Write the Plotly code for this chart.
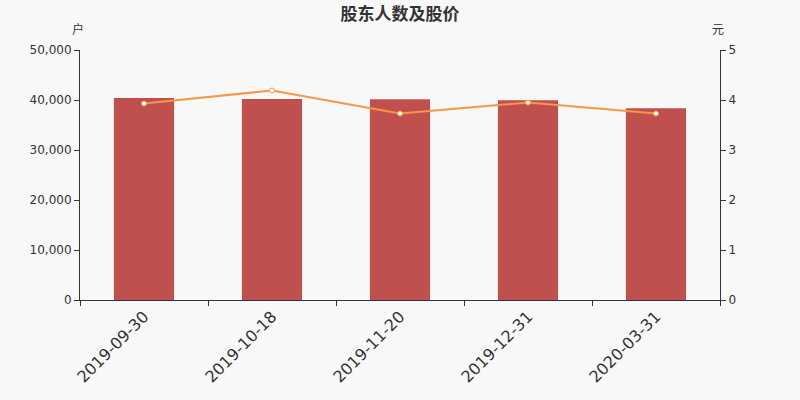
import plotly.graph_objects as go

dates = ["2019-09-30", "2019-10-18", "2019-11-20", "2019-12-31", "2020-03-31"]
holders = [40400, 40200, 40130, 39930, 38330]
price = [3.93, 4.19, 3.73, 3.95, 3.73]

font_family = "DejaVu Sans, Noto Sans CJK SC, sans-serif"
axis_color = "#333333"

fig = go.Figure()

fig.add_bar(
    x=dates, y=holders,
    marker=dict(color="#c0504d", line=dict(width=0)),
    width=0.47,
    name="股东人数",
)

fig.add_scatter(
    x=dates, y=price,
    yaxis="y2",
    mode="lines+markers",
    line=dict(color="#f79646", width=2),
    marker=dict(size=5, color="white", line=dict(color="#f79646", width=1)),
    name="股价",
)

fig.update_layout(
    width=800, height=400,
    margin=dict(l=80, r=80, t=50, b=100),
    paper_bgcolor="#f8f8f8",
    plot_bgcolor="#f8f8f8",
    showlegend=False,
    font=dict(family=font_family, color=axis_color),
    title=dict(text="<b>股东人数及股价</b>", x=0.5, xanchor="center", y=0.965, yanchor="middle",
               font=dict(family="Noto Sans CJK SC, sans-serif", size=17, color=axis_color)),
    xaxis=dict(
        type="category",
        showgrid=False,
        showline=True, linecolor=axis_color, linewidth=1,
        ticks="outside", ticklen=5, tickcolor=axis_color,
        tickson="boundaries",
        tickangle=-45,
        tickfont=dict(size=16, color=axis_color),
    ),
    yaxis=dict(
        range=[0, 50000],
        tickvals=[0, 10000, 20000, 30000, 40000, 50000],
        ticktext=["0", "10,000", "20,000", "30,000", "40,000", "50,000"],
        showgrid=False, zeroline=False,
        showline=True, linecolor=axis_color, linewidth=1,
        ticks="outside", ticklen=5, tickcolor=axis_color,
        tickfont=dict(size=12, color=axis_color),
    ),
    yaxis2=dict(
        range=[0, 5],
        tickvals=[0, 1, 2, 3, 4, 5],
        overlaying="y", side="right",
        showgrid=False, zeroline=False,
        showline=True, linecolor=axis_color, linewidth=1,
        ticks="outside", ticklen=5, tickcolor=axis_color,
        tickfont=dict(size=12, color=axis_color),
    ),
    annotations=[
        dict(text="户", x=0.0, xanchor="center", xshift=-2, y=1.0, yanchor="middle", yshift=22,
             xref="paper", yref="paper", showarrow=False,
             font=dict(family="Noto Sans CJK SC, sans-serif", size=12, color=axis_color)),
        dict(text="元", x=1.0, xanchor="center", xshift=-2, y=1.0, yanchor="middle", yshift=22,
             xref="paper", yref="paper", showarrow=False,
             font=dict(family="Noto Sans CJK SC, sans-serif", size=12, color=axis_color)),
    ],
)

fig.write_html("out.html", config={"displayModeBar": False},
               post_script="document.body.style.margin='0px';")
